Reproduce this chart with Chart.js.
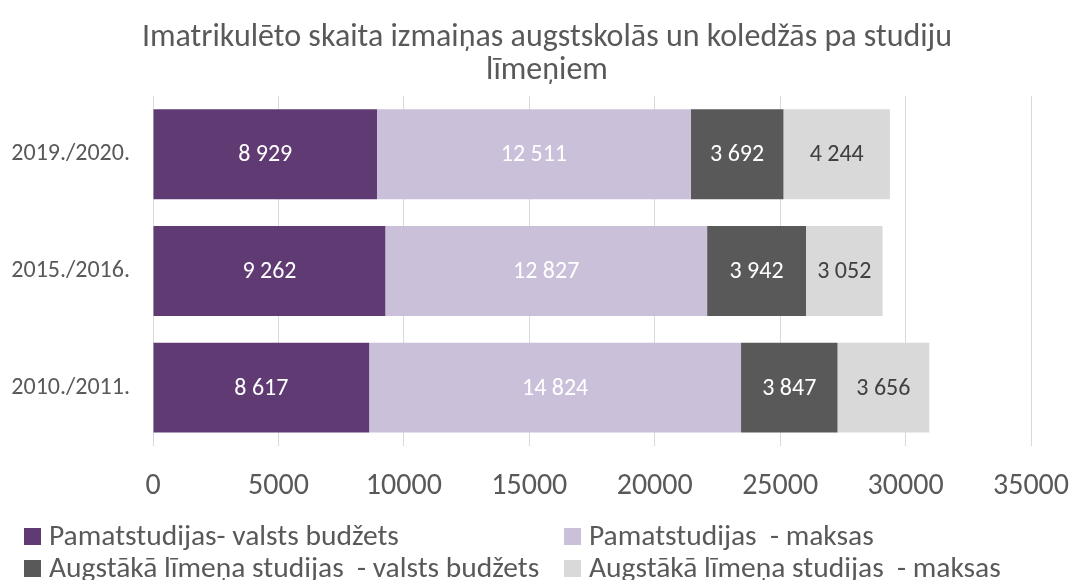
<!DOCTYPE html>
<html>
<head>
<meta charset="utf-8">
<script src="https://cdn.jsdelivr.net/npm/chart.js@4/dist/chart.umd.min.js"></script>
<style>
  html, body { margin: 0; padding: 0; background: #fff; }
  #wrap { position: relative; width: 1070px; height: 580px; overflow: hidden; }
  #legend { position: absolute; left: 0; top: 0; width: 1070px; height: 580px; pointer-events: none;
    font-family: Carlito, "Open Sans", sans-serif; font-size: 29.5px; color: #595959; }
  .lt { position: absolute; white-space: pre; line-height: 32px; }
  .sw { position: absolute; width: 17px; height: 17px; }
</style>
</head>
<body>
<div id="wrap">
  <canvas id="c" width="1070" height="580"></canvas>
  <div id="legend"></div>
</div>
<script>
const FONT = 'Carlito, "Open Sans", sans-serif';
const titleLines = ['Imatrikulēto skaita izmaiņas augstskolās un koledžās pa studiju', 'līmeņiem'];
const categories = ['2019./2020.', '2015./2016.', '2010./2011.'];
const seriesNames = [
  'Pamatstudijas- valsts budžets',
  'Pamatstudijas  - maksas',
  'Augstākā līmeņa studijas  - valsts budžets',
  'Augstākā līmeņa studijas  - maksas'
];
const pamatBudzets = [8929, 9262, 8617];
const pamatMaksas = [12511, 12827, 14824];
const augstBudzets = [3692, 3942, 3847];
const augstMaksas = [4244, 3052, 3656];
const xTicks = [0, 5000, 10000, 15000, 20000, 25000, 30000, 35000];

const colors = ['#603b73', '#cbc0da', '#595959', '#d9d9d9'];
const labelColors = ['#ffffff', '#ffffff', '#ffffff', '#404040'];
const seriesValues = [pamatBudzets, pamatMaksas, augstBudzets, augstMaksas];

function fmt(v) { return String(v).replace(/\B(?=(\d{3})+(?!\d))/g, ' '); }

const dataLabels = {
  id: 'dataLabels',
  beforeDraw(chart) {
    // let the category labels extend left of the padded axis box without clipping
    chart.scales.y.left = 0;
  },
  afterDatasetsDraw(chart) {
    const ctx = chart.ctx;
    ctx.save();
    ctx.font = '24px ' + FONT;
    ctx.textAlign = 'center';
    ctx.textBaseline = 'middle';
    chart.data.datasets.forEach((ds, i) => {
      const meta = chart.getDatasetMeta(i);
      meta.data.forEach((bar, j) => {
        const p = bar.getProps(['x', 'y', 'base'], true);
        ctx.fillStyle = labelColors[i];
        ctx.fillText(fmt(ds.data[j]), (p.x + p.base) / 2, p.y + 1);
      });
    });
    ctx.restore();
  }
};

new Chart(document.getElementById('c'), {
  type: 'bar',
  data: {
    labels: categories,
    datasets: seriesValues.map((vals, i) => ({
      label: seriesNames[i],
      data: vals,
      backgroundColor: colors[i],
      borderWidth: 0,
      categoryPercentage: 1,
      barPercentage: 0.77
    }))
  },
  options: {
    indexAxis: 'y',
    responsive: false,
    animation: false,
    layout: { padding: { left: 24, right: 0, top: 0, bottom: 54 } },
    plugins: {
      legend: { display: false },
      tooltip: { enabled: false },
      title: {
        display: true,
        text: titleLines,
        color: '#595959',
        font: { family: FONT, size: 32, weight: 'normal', lineHeight: 1.03 },
        padding: { top: 22, bottom: 8 }
      }
    },
    scales: {
      x: {
        stacked: true,
        min: 0, max: 35000,
        afterBuildTicks(scale) { scale.ticks = xTicks.map(v => ({ value: v })); },
        afterFit(scale) { scale.paddingRight = 39; scale.paddingLeft = 0; },
        grid: { color: '#d9d9d9', lineWidth: 1, drawTicks: false },
        border: { display: false },
        ticks: { color: '#595959', padding: 22, font: { family: FONT, size: 30 }, maxRotation: 0, callback: v => String(v) }
      },
      y: {
        stacked: true,
        grid: { display: false, drawTicks: false },
        border: { display: false },
        afterFit(scale) { scale.width = 129; },
        ticks: { color: '#595959', padding: 23, font: { family: FONT, size: 24 } }
      }
    }
  },
  plugins: [dataLabels]
});

const legend = document.getElementById('legend');
const cols = [24, 564, 24, 564];
const rows = [528, 528, 560, 560];
seriesNames.forEach((n, i) => {
  const s = document.createElement('div');
  s.className = 'sw';
  s.style.left = cols[i] + 'px';
  s.style.top = rows[i] + 'px';
  s.style.background = colors[i];
  legend.appendChild(s);
  const t = document.createElement('div');
  t.className = 'lt';
  t.style.left = (cols[i] + 25) + 'px';
  t.style.top = (rows[i] - 9) + 'px';
  t.textContent = n;
  legend.appendChild(t);
});
</script>
</body>
</html>
